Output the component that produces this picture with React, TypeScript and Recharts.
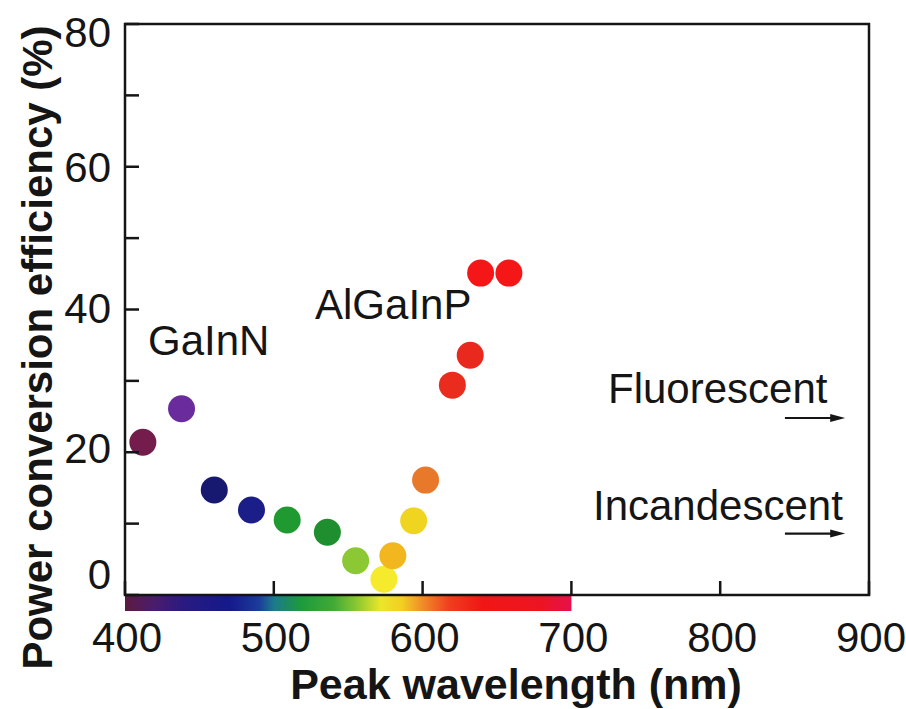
import {
  ScatterChart,
  Scatter,
  XAxis,
  YAxis,
  Cell,
  Label,
  ReferenceArea,
  ReferenceDot,
  ReferenceLine,
} from 'recharts'

// peak wavelength (nm) and power conversion efficiency (%)
const wavelengths = [412, 438, 460, 485, 509, 536, 555, 574, 580, 594, 602, 620, 632, 639, 658]
const efficiencies = [21.4, 26.1, 14.7, 11.9, 10.5, 8.8, 4.8, 2.2, 5.5, 10.4, 16.1, 29.4, 33.6, 45.1, 45.1]
const pointColors = [
  '#741c4c', '#6a2c9c', '#17186f', '#1b1d88', '#1f9a30', '#1f8e2e', '#8cc834', '#f5ea2c',
  '#f2b71f', '#f0d520', '#e8792b', '#ea2c1e', '#e9291d', '#f51717', '#f51717',
]

const xTicks = [400, 500, 600, 700, 800, 900]
const yTicks = [0, 10, 20, 30, 40, 50, 60, 70, 80]
const yLabelled = [0, 20, 40, 60, 80]

const materials = [
  { name: 'GaInN', wavelength: 415.5, efficiency: 33.6 },
  { name: 'AlGaInP', wavelength: 527.7, efficiency: 38.7 },
]
const lamps = [
  { name: 'Fluorescent', textAt: 724.6, textEff: 26.9, efficiency: 24.8 },
  { name: 'Incandescent', textAt: 714.5, textEff: 10.5, efficiency: 8.6 },
]
const arrowFrom = 843.5
const arrowTo = 884

const spectrumStops: [number, string][] = [
  [400, '#5c1a42'], [420, '#4a1c6c'], [440, '#281a82'], [470, '#15198a'], [490, '#1b3c9a'],
  [500, '#1c7a8c'], [518, '#1d9a3c'], [540, '#40aa36'], [556, '#8cc832'], [572, '#ece62a'],
  [586, '#f2cf22'], [600, '#f08c28'], [618, '#f03e1e'], [640, '#f01616'], [680, '#ec1422'],
  [700, '#e6104c'],
]

const data = wavelengths.map((w, i) => ({ wavelength: w, efficiency: efficiencies[i] }))

const font = "'Liberation Sans', Arial, Helvetica, sans-serif"
const ink = '#151515'

function YTick({ x, y, payload }: any) {
  const v = payload.value
  const shift = v === 0 ? -21 : v === 80 ? 8 : v === 20 ? -4 : v === 40 ? -2 : 0
  return (
    <g>
      <line x1={x + 14} x2={x + 28} y1={y} y2={y} stroke={ink} strokeWidth={2.5} />
      {yLabelled.includes(v) && (
        <text x={x} y={y + shift} dy={15} textAnchor="end" fontSize={42} fontFamily={font} fill={ink}>
          {v}
        </text>
      )}
    </g>
  )
}

function XTick({ x, y, payload }: any) {
  return (
    <g>
      <line x1={x} x2={x} y1={y} y2={y - 14} stroke={ink} strokeWidth={2.5} />
      <text x={x + 2} y={y + 57} textAnchor="middle" fontSize={42} fontFamily={font} fill={ink}>
        {payload.value}
      </text>
    </g>
  )
}

export default function App() {
  return (
    <div style={{ position: 'absolute', left: 0, top: 0, background: '#fff' }}>
      <ScatterChart width={906} height={709} margin={{ top: 24, right: 37, bottom: 54, left: 65 }}>
        <defs>
          <linearGradient id="spectrum" x1="0" y1="0" x2="1" y2="0">
            {spectrumStops.map(([nm, c]) => (
              <stop key={nm} offset={(nm - 400) / 300} stopColor={c} />
            ))}
          </linearGradient>
        </defs>
        <XAxis
          type="number"
          dataKey="wavelength"
          domain={[400, 900]}
          ticks={xTicks}
          height={60}
          axisLine={false}
          tickLine={false}
          tickSize={0}
          tickMargin={0}
          tick={<XTick />}
        >
          <Label
            content={({ viewBox }: any) => (
              <text
                x={viewBox.x + viewBox.width / 2 + 19}
                y={viewBox.y + 104}
                textAnchor="middle"
                fontSize={43}
                fontWeight="bold"
                fontFamily={font}
                fill={ink}
              >
                Peak wavelength (nm)
              </text>
            )}
          />
        </XAxis>
        <YAxis
          type="number"
          dataKey="efficiency"
          domain={[0, 80]}
          ticks={yTicks}
          width={60}
          axisLine={false}
          tickLine={false}
          tickSize={0}
          tickMargin={14}
          tick={<YTick />}
        >
          <Label
            content={({ viewBox }: any) => {
              const tx = viewBox.x + viewBox.width - 73
              const ty = viewBox.y + viewBox.height / 2 + 38
              return (
                <text
                  x={tx}
                  y={ty}
                  transform={`rotate(-90 ${tx} ${ty})`}
                  textAnchor="middle"
                  fontSize={42}
                  fontWeight="bold"
                  fontFamily={font}
                  fill={ink}
                >
                  Power conversion efficiency (%)
                </text>
              )
            }}
          />
        </YAxis>
        <ReferenceArea
          x1={400}
          x2={700}
          y1={-2.25}
          y2={0}
          ifOverflow="visible"
          fill="url(#spectrum)"
          fillOpacity={1}
          stroke="none"
        />
        <ReferenceArea
          x1={400}
          x2={900}
          y1={0}
          y2={80}
          ifOverflow="visible"
          fill="none"
          stroke={ink}
          strokeWidth={2.5}
        />
        {materials.map((m) => (
          <ReferenceDot
            key={m.name}
            x={m.wavelength}
            y={m.efficiency}
            ifOverflow="visible"
            shape={(p: any) => (
              <text x={p.cx} y={p.cy} fontSize={42} fontFamily={font} fill={ink}>
                {m.name}
              </text>
            )}
          />
        ))}
        {lamps.map((l) => (
          <ReferenceDot
            key={l.name}
            x={l.textAt}
            y={l.textEff}
            ifOverflow="visible"
            shape={(p: any) => (
              <text x={p.cx} y={p.cy} fontSize={42} fontFamily={font} fill={ink}>
                {l.name}
              </text>
            )}
          />
        ))}
        {lamps.map((l) => (
          <ReferenceLine
            key={l.name + '-arrow'}
            segment={[
              { x: arrowFrom, y: l.efficiency },
              { x: arrowTo, y: l.efficiency },
            ]}
            ifOverflow="visible"
            shape={(p: any) => (
              <g>
                <line x1={p.x1} y1={p.y1} x2={p.x2 - 12} y2={p.y2} stroke={ink} strokeWidth={2.2} />
                <polygon
                  points={`${p.x2},${p.y2} ${p.x2 - 15},${p.y2 - 4} ${p.x2 - 15},${p.y2 + 4}`}
                  fill={ink}
                />
              </g>
            )}
          />
        ))}
        <Scatter
          data={data}
          isAnimationActive={false}
          shape={(p: any) => <circle cx={p.cx} cy={p.cy} r={13.5} fill={p.fill} />}
        >
          {data.map((_, i) => (
            <Cell key={i} fill={pointColors[i]} />
          ))}
        </Scatter>
      </ScatterChart>
    </div>
  )
}
